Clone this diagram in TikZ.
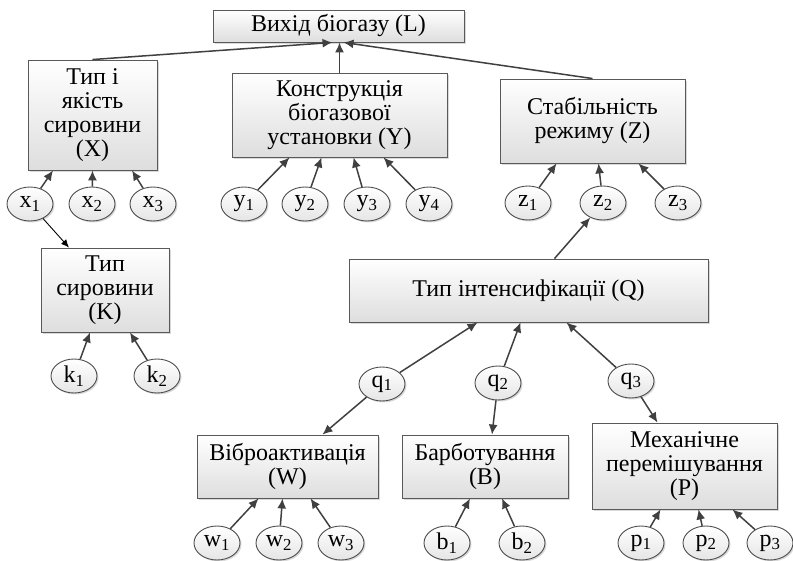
\documentclass[tikz,border=0pt]{standalone}
\usepackage{fontspec}
\setmainfont{Liberation Serif}
\usetikzlibrary{shapes.geometric, shadows, arrows.meta}

\tikzset{
 factor/.style={draw=black!65, line width=0.9pt, top color=white, bottom color=black!13, drop shadow={opacity=0.3, shadow xshift=2pt, shadow yshift=-2pt}, align=center, inner sep=0pt},
 param/.style={ellipse, draw=black!70, line width=0.9pt, top color=white, bottom color=black!10, drop shadow={opacity=0.3, shadow xshift=1.5pt, shadow yshift=-1.5pt}, minimum width=46pt, minimum height=34pt, inner sep=0pt},
 link/.style={draw=black!75, line width=1.5pt, -{Latex[length=10pt, width=9pt]}},
 thinlink/.style={draw=black, line width=0.9pt, -{Latex[length=8pt, width=7pt]}}
}

\begin{document}
\begin{tikzpicture}[x=1pt, y=-1pt, font=\fontsize{24}{24}\selectfont]
\useasboundingbox (0,0) rectangle (793,561);

\node[factor, minimum width=251pt, minimum height=32pt] (L) at (338.5,26) {Вихід біогазу (L)};
\node[factor, minimum width=129pt, minimum height=110pt] (X) at (92.5,115) {Тип і\\якість\\сировини\\(X)};
\node[factor, minimum width=215pt, minimum height=84pt] (Y) at (339.5,115) {Конструкція\\біогазової\\установки (Y)};
\node[factor, minimum width=185pt, minimum height=84pt] (Z) at (592.5,121) {Стабільність\\режиму (Z)};
\node[factor, minimum width=128pt, minimum height=84pt] (K) at (105,290) {Тип\\сировини\\(K)};
\node[factor, minimum width=359pt, minimum height=63pt] (Q) at (528.5,290.5) {Тип інтенсифікації (Q)};
\node[factor, minimum width=181pt, minimum height=63pt] (W) at (287.5,466.5) {Віброактивація\\(W)};
\node[factor, minimum width=166pt, minimum height=63pt] (B) at (485,466.5) {Барботування\\(B)};
\node[factor, minimum width=185pt, minimum height=86pt] (P) at (684.5,466) {Механічне\\перемішування\\(P)};

\draw[link] (X.north) -- ([xshift=-6pt]L.south);
\draw[link] (Y.north) -- (Y.north |- L.south);
\draw[link] (Z.north) -- ([xshift=5pt]L.south);

\foreach \n/\x/\s in {1/30/-39.5, 2/92/0, 3/153/39.5} {
 \node[param] (x\n) at (\x,204) {x\textsubscript{\n}};
 \draw[link] (x\n) -- ([xshift=\s pt]X.south);
}
\foreach \n/\x/\s in {1/244/-50, 2/305/-18, 3/367/14, 4/429/44} {
 \node[param] (y\n) at (\x,204) {y\textsubscript{\n}};
 \draw[link] (y\n) -- ([xshift=\s pt]Y.south);
}
\foreach \n/\x/\s in {1/528/-36, 2/603/6, 3/678/46} {
 \node[param] (z\n) at (\x,203) {z\textsubscript{\n}};
 \draw[link] (z\n) -- ([xshift=\s pt]Z.south);
}

\draw[thinlink] (x1) -- ([xshift=-36pt]K.north);
\foreach \n/\x/\s in {1/74/-15, 2/157/25} {
 \node[param] (k\n) at (\x,376) {k\textsubscript{\n}};
 \draw[link] (k\n) -- ([xshift=\s pt]K.south);
}

\draw[link] ([xshift=26pt]Q.north) -- (z2);

\node[param] (q1) at (382,384) {q\textsubscript{1}};
\node[param] (q2) at (498,383) {q\textsubscript{2}};
\node[param] (q3) at (631,381) {q\textsubscript{3}};
\draw[link] (q1) -- ([xshift=-51pt]Q.south);
\draw[link] (q2) -- ([xshift=-8pt]Q.south);
\draw[link] (q3) -- ([xshift=38pt]Q.south);
\draw[link] (q1) -- ([xshift=35pt]W.north);
\draw[link] (q2) -- ([xshift=7pt]B.north);
\draw[link] (q3) -- ([xshift=-27pt]P.north);

\foreach \n/\x/\s in {1/217/-29, 2/279/-5, 3/341/23} {
 \node[param] (w\n) at (\x,543) {w\textsubscript{\n}};
 \draw[link] (w\n) -- ([xshift=\s pt]W.south);
}
\foreach \n/\x/\s in {1/447/-15, 2/522/17} {
 \node[param] (b\n) at (\x,543) {b\textsubscript{\n}};
 \draw[link] (b\n) -- ([xshift=\s pt]B.south);
}
\foreach \n/\x/\s in {1/641/-24, 2/706/14, 3/770/48} {
 \node[param] (p\n) at (\x,543) {p\textsubscript{\n}};
 \draw[link] (p\n) -- ([xshift=\s pt]P.south);
}

\end{tikzpicture}
\end{document}
